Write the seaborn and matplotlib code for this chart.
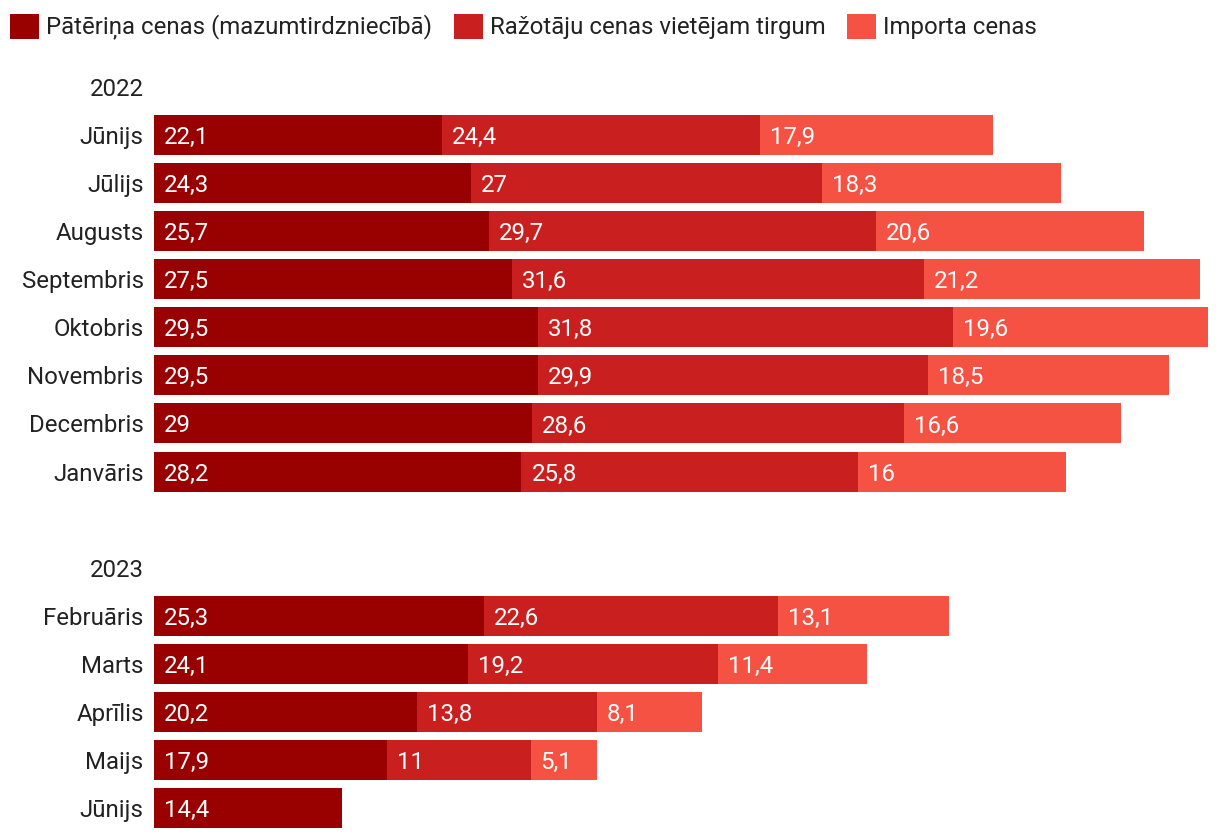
import numpy as np
import pandas as pd
import matplotlib
matplotlib.use("Agg")
import matplotlib.pyplot as plt
from matplotlib.patches import Patch
import matplotlib.transforms as mtransforms
import seaborn as sns

# ---- data ----
years = ["2022", "2023"]
months_2022 = ["Jūnijs", "Jūlijs", "Augusts", "Septembris", "Oktobris",
               "Novembris", "Decembris", "Janvāris"]
months_2023 = ["Februāris", "Marts", "Aprīlis", "Maijs", "Jūnijs"]
series_names = ["Pātēriņa cenas (mazumtirdzniecībā)",
                "Ražotāju cenas vietējam tirgum",
                "Importa cenas"]
consumer = [22.1, 24.3, 25.7, 27.5, 29.5, 29.5, 29, 28.2,
            25.3, 24.1, 20.2, 17.9, 14.4]
producer = [24.4, 27, 29.7, 31.6, 31.8, 29.9, 28.6, 25.8,
            22.6, 19.2, 13.8, 11, np.nan]
imports = [17.9, 18.3, 20.6, 21.2, 19.6, 18.5, 16.6, 16,
           13.1, 11.4, 8.1, 5.1, np.nan]

colors = ["#990000", "#c91f1f", "#f65243"]

# ---- layout rows ----
pos_2022 = list(range(1, 1 + len(months_2022)))
pos_2023 = list(range(len(months_2022) + 3, len(months_2022) + 3 + len(months_2023)))
positions = pos_2022 + pos_2023
year_pos = [0, len(months_2022) + 2]
months = months_2022 + months_2023

c = np.array(consumer, dtype=float)
p = np.nan_to_num(np.array(producer, dtype=float))
m = np.nan_to_num(np.array(imports, dtype=float))
cum1 = c
cum2 = c + p
cum3 = c + p + m

df = pd.DataFrame({"pos": positions, "c1": cum1, "c2": cum2, "c3": cum3})

sns.set_style("white")
plt.rcParams["font.family"] = ["Roboto", "DejaVu Sans"]
FS = 17.3

fig = plt.figure(figsize=(12.2, 8.4), dpi=100)
W, H = 1220, 840
ax = fig.add_axes([154 / W, 1 - 832 / H, (1208 - 154) / W, (832 - 63) / H])

for col, colr in zip(["c3", "c2", "c1"], colors[::-1]):
    sns.barplot(data=df, x=col, y="pos", orient="y", native_scale=True,
                color=colr, width=0.833, linewidth=0, errorbar=None,
                saturation=1, ax=ax)

ax.set_xlim(0, 80.9)
ax.set_ylim(15.5, -0.5)
ax.set_xlabel("")
ax.set_ylabel("")
ax.set_xticks([])
ax.set_yticks(year_pos + positions)
ax.set_yticklabels(years + months)
ax.tick_params(axis="y", length=0, pad=7.5, labelsize=FS, labelcolor="#222222")
for s in ax.spines.values():
    s.set_visible(False)

# value labels
offset = mtransforms.offset_copy(ax.transData, fig=fig, x=7.2, y=0, units="points")
def fmt(v):
    return f"{v:g}".replace(".", ",")
starts = [np.zeros(len(c)), cum1, cum2]
vals = [consumer, producer, imports]
for st, vs in zip(starts, vals):
    for y, s0, v in zip(positions, st, vs):
        if v is None or (isinstance(v, float) and np.isnan(v)):
            continue
        ax.text(s0, y, fmt(v), transform=offset, ha="left", va="center_baseline",
                color="white", fontsize=FS)

handles = [Patch(facecolor=col, edgecolor="none") for col in colors]
fig.legend(handles, series_names, loc="upper left", bbox_to_anchor=(10 / W, 1 - 14 / H),
           ncol=3, frameon=False, fontsize=FS, handlelength=1.2, handleheight=1.2,
           handletextpad=0.3, columnspacing=0.9, borderpad=0, borderaxespad=0,
           labelcolor="#222222")

fig.savefig("out.png", dpi=100, facecolor="white")
